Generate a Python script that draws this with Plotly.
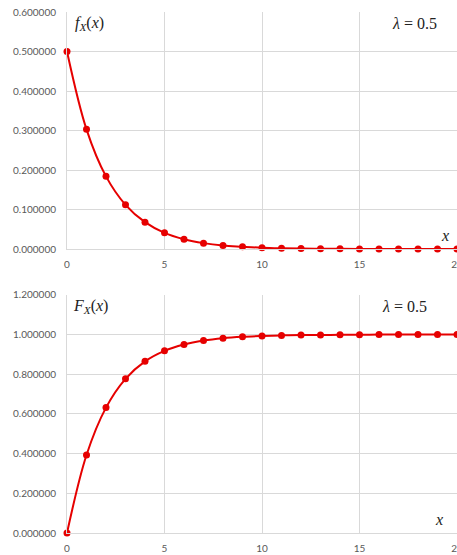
import plotly.graph_objects as go

x_vals = list(range(0, 21))
pdf_vals = [0.500, 0.303, 0.184, 0.112, 0.068, 0.041, 0.025, 0.015, 0.009, 0.006,
            0.0034, 0.002, 0.0012, 0.0008, 0.0005, 0.0003, 0.0002, 0.0001, 0.00006, 0.00004, 0.00002]
cdf_vals = [0.000, 0.393, 0.632, 0.777, 0.865, 0.918, 0.950, 0.970, 0.982, 0.989,
            0.993, 0.996, 0.998, 0.998, 0.999, 0.999, 1.000, 1.000, 1.000, 1.000, 1.000]
pdf_ticks = [0, 0.1, 0.2, 0.3, 0.4, 0.5, 0.6]
cdf_ticks = [0, 0.2, 0.4, 0.6, 0.8, 1.0, 1.2]

RED = "#e60000"
fig = go.Figure()
fig.add_trace(go.Scatter(x=x_vals, y=pdf_vals, mode="lines+markers", xaxis="x", yaxis="y",
                         line=dict(color=RED, width=2, shape="spline"),
                         marker=dict(color=RED, size=7), showlegend=False, cliponaxis=False))
fig.add_trace(go.Scatter(x=x_vals, y=cdf_vals, mode="lines+markers", xaxis="x2", yaxis="y2",
                         line=dict(color=RED, width=2, shape="spline"),
                         marker=dict(color=RED, size=7), showlegend=False, cliponaxis=False))

tickfont = dict(family="Lato, Open Sans, sans-serif", size=10, color="#595959")
grid = "#d9d9d9"
xcommon = dict(range=[0, 20], tickvals=[0, 5, 10, 15, 20], showgrid=True, gridcolor=grid,
               gridwidth=1, zeroline=False, showline=True, linecolor=grid, tickfont=tickfont,
               ticks="", fixedrange=True, ticklabeloverflow="allow", ticklabelstandoff=6,
               automargin=False)
ycommon = dict(showgrid=True, gridcolor=grid, zeroline=False, showline=True, linecolor=grid,
               tickfont=tickfont, ticks="", ticklabelstandoff=8, fixedrange=True, automargin=False)
fig.update_layout(
    width=457, height=555,
    margin=dict(l=67, r=0, t=12, b=22),
    paper_bgcolor="white", plot_bgcolor="white",
    xaxis=dict(domain=[0, 1], anchor="y", **xcommon),
    yaxis=dict(domain=[0.545, 1], anchor="x", range=[0, 0.6], tickvals=pdf_ticks,
               ticktext=[f"{v:.6f}" for v in pdf_ticks], **ycommon),
    xaxis2=dict(domain=[0, 1], anchor="y2", **xcommon),
    yaxis2=dict(domain=[0, 0.457], anchor="x2", range=[0, 1.2], tickvals=cdf_ticks,
                ticktext=[f"{v:.6f}" for v in cdf_ticks], **ycommon),
)

serif = dict(family="Liberation Serif, Times New Roman, serif", size=16, color="#222222")
ann = [
    dict(text="<i>f<sub>X</sub></i>(<i>x</i>)", xref="x", yref="y", x=0.3, y=0.57, xanchor="left", yanchor="middle"),
    dict(text="<i>λ</i> = 0.5", xref="x", yref="y", x=17.8, y=0.57, xanchor="center", yanchor="middle"),
    dict(text="<i>x</i>", xref="x", yref="y", x=19.4, y=0.035, xanchor="center", yanchor="middle"),
    dict(text="<i>F<sub>X</sub></i>(<i>x</i>)", xref="x2", yref="y2", x=0.2, y=1.14, xanchor="left", yanchor="middle"),
    dict(text="<i>λ</i> = 0.5", xref="x2", yref="y2", x=17.3, y=1.14, xanchor="center", yanchor="middle"),
    dict(text="<i>x</i>", xref="x2", yref="y2", x=19.1, y=0.07, xanchor="center", yanchor="middle"),
]
for a in ann:
    fig.add_annotation(showarrow=False, font=serif, **a)

fig.write_html("out.html", config={"displayModeBar": False},
               post_script="document.body.style.margin='0';document.body.style.overflow='hidden';")
